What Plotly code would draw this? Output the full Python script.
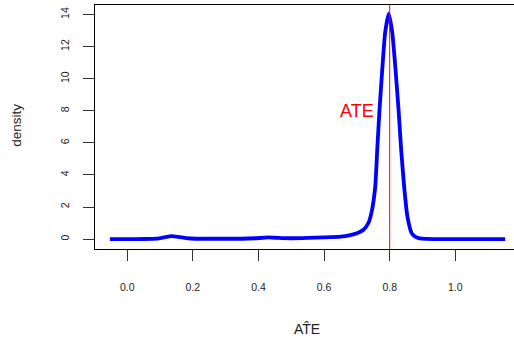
import plotly.graph_objects as go

# Kernel density estimate of the ATE estimates (read off as x / density pairs)
ate_hat = [-0.053, 0.0, 0.05, 0.09, 0.115, 0.135, 0.155, 0.18, 0.21, 0.25, 0.30,
           0.35, 0.39, 0.43, 0.46, 0.50, 0.55, 0.60, 0.65, 0.68, 0.70, 0.72,
           0.735, 0.745, 0.756, 0.762, 0.769, 0.778, 0.786, 0.797, 0.808,
           0.817, 0.827, 0.835, 0.844, 0.854, 0.867, 0.880, 0.892, 0.91,
           0.95, 1.0, 1.05, 1.10, 1.152]
density = [0.0, 0.0, 0.005, 0.03, 0.12, 0.18, 0.14, 0.06, 0.02, 0.02, 0.02,
           0.02, 0.05, 0.10, 0.07, 0.05, 0.07, 0.10, 0.15, 0.25, 0.36, 0.58,
           1.0, 1.7, 3.28, 5.57, 8.07, 10.77, 12.86, 14.06, 12.86,
           10.77, 8.07, 5.57, 3.28, 1.41, 0.37, 0.12, 0.04, 0.01,
           0.0, 0.0, 0.0, 0.0, 0.0]

true_ate = 0.8
label_pos = (0.7, 8)

x_ticks = [0.0, 0.2, 0.4, 0.6, 0.8, 1.0]
x_tick_text = ["0.0", "0.2", "0.4", "0.6", "0.8", "1.0"]
y_ticks = [0, 2, 4, 6, 8, 10, 12, 14]

FONT = "Liberation Sans, Arial, Helvetica, sans-serif"

fig = go.Figure()
fig.add_trace(go.Scatter(
    x=ate_hat, y=density, mode="lines",
    line=dict(color="#0000FF", width=3.8, shape="spline", smoothing=0.5),
    hoverinfo="skip", showlegend=False,
))

# vertical reference line at the true ATE
fig.add_shape(type="line", xref="x", yref="paper", x0=true_ate, x1=true_ate,
              y0=0, y1=1, line=dict(color="#FF0000", width=1))

fig.add_annotation(x=label_pos[0], y=label_pos[1], text="ATE", showarrow=False,
                   font=dict(family=FONT, size=18, color="#FF0000"),
                   xanchor="center", yanchor="middle")

# axis titles
fig.add_annotation(xref="paper", yref="paper", x=-0.186, y=0.505, text="density",
                   textangle=-90, showarrow=False, xanchor="center", yanchor="middle",
                   font=dict(family=FONT, size=13.5, color="#222222"))
fig.add_annotation(xref="paper", yref="paper", x=0.506, y=-0.327, text="AT\u0302E",
                   showarrow=False, xanchor="center", yanchor="middle",
                   font=dict(family=FONT, size=14, color="#222222"))

fig.update_layout(
    width=514, height=345,
    margin=dict(l=95, r=0, t=5, b=96),
    paper_bgcolor="white", plot_bgcolor="white",
    font=dict(family=FONT, size=10.5, color="#222222"),
)
fig.update_xaxes(
    range=[-0.0985, 1.179], tickvals=x_ticks, ticktext=x_tick_text,
    ticks="outside", ticklen=11, tickcolor="#333333", tickwidth=1,
    showline=True, linecolor="black", linewidth=1, mirror=True,
    showgrid=False, zeroline=False, ticklabelstandoff=17,
)
fig.update_yaxes(
    range=[-0.62, 14.6], tickvals=y_ticks, tickangle=-90,
    ticks="outside", ticklen=11, tickcolor="#333333", tickwidth=1,
    showline=True, linecolor="black", linewidth=1, mirror=False,
    showgrid=False, zeroline=False, ticklabelstandoff=10,
)

fig.write_html("out.html")
